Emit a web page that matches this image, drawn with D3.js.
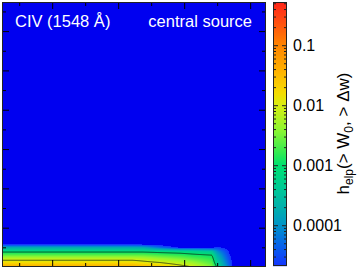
<!DOCTYPE html>
<html>
<head>
<meta charset="utf-8">
<script src="https://cdn.jsdelivr.net/npm/d3@7"></script>
<style>
  body { margin: 0; background: #fff; }
  svg { display: block; font-family: "Liberation Sans", Arial, sans-serif; }
</style>
</head>
<body>
<svg id="chart" width="360" height="268"></svg>
<script>
// grid of the map: W0 columns, dw rows, values are log10(h)
const w0Cols = [0.24, 2.22, 2.38, 2.63, 2.94, 3.13, 3.42, 3.5, 3.7, 3.8, 4.24];
const dwRows = [0, 10, 20, 30, 40, 50, 60, 70, 674];
// one array per column, rows from dw=0 upward
const logH = [
  [-1.35, -1.75, -2.1, -2.6, -3.1, -3.8, -5.0, -5.2, -5.2],
  [-1.35, -1.75, -2.1, -2.6, -3.1, -3.8, -5.0, -5.2, -5.2],
  [-1.45, -1.85, -2.15, -2.6, -3.1, -3.85, -5.0, -5.2, -5.2],
  [-1.6, -1.95, -2.3, -2.7, -3.15, -4.3, -5.0, -5.2, -5.2],
  [-1.85, -2.15, -2.45, -2.8, -3.2, -4.8, -5.1, -5.2, -5.2],
  [-2.0, -2.3, -2.6, -2.9, -3.25, -4.8, -5.1, -5.2, -5.2],
  [-2.45, -2.65, -2.8, -2.98, -3.45, -4.8, -5.1, -5.2, -5.2],
  [-3.05, -3.3, -3.5, -3.7, -4.0, -4.6, -5.1, -5.2, -5.2],
  [-4.4, -4.5, -4.6, -4.7, -4.8, -4.9, -5.1, -5.2, -5.2],
  [-5.2, -5.2, -5.2, -5.2, -5.2, -5.2, -5.2, -5.2, -5.2],
  [-5.2, -5.2, -5.2, -5.2, -5.2, -5.2, -5.2, -5.2, -5.2]
];
const contourLevels = [-3, -2];

const xMajor = [1, 2, 3, 4];
const xMinor = [0.5, 1.5, 2.5, 3.5];
const yMajor = [100, 200, 300, 400, 500, 600];
const yMinor = [50, 150, 250, 350, 450, 550, 650];

const cbTicks = [0.1, 0.01, 0.001, 0.0001];
const cbLabels = ["0.1", "0.01", "0.001", "0.0001"];

// colour map (log10 value -> colour)
const cmapLog = [-4.68, -4.3, -4.0, -3.8, -3.4, -3.0, -2.8, -2.4, -2.0, -1.8, -1.4, -1.0, -0.6, -0.28];
const cmapColors = ["#1434ff", "#0668e8", "#0094c8", "#00a8b4", "#00c896", "#00e070", "#30ea52",
                    "#90f630", "#d8ee10", "#f5dc00", "#ffae00", "#ff8400", "#ff4c10", "#ff2418"];
const underColor = "#0000f0";

const x0 = 2, x1 = 266, y0 = 2, y1 = 267;
const W = x1 - x0, H = y1 - y0;

const svg = d3.select("#chart");

const x = d3.scaleLinear().domain([0.24, 4.24]).range([x0, x1]);
const y = d3.scaleLinear().domain([0, 674]).range([y1, y0]);
const cmap = d3.scaleLinear().domain(cmapLog).range(cmapColors).clamp(true);

// bilinear lookup in the grid
let lookup = (v, dw) => {
  let i = Math.max(0, Math.min(w0Cols.length - 2, d3.bisectRight(w0Cols, v) - 1));
  let j = Math.max(0, Math.min(dwRows.length - 2, d3.bisectRight(dwRows, dw) - 1));
  let tx = Math.max(0, Math.min(1, (v - w0Cols[i]) / (w0Cols[i + 1] - w0Cols[i])));
  let ty = Math.max(0, Math.min(1, (dw - dwRows[j]) / (dwRows[j + 1] - dwRows[j])));
  let a = logH[i][j], b = logH[i + 1][j], c = logH[i][j + 1], d = logH[i + 1][j + 1];
  return (a * (1 - tx) + b * tx) * (1 - ty) + (c * (1 - tx) + d * tx) * ty;
};

// values below the colour range show the plain background
svg.append("rect")
  .attr("x", x0).attr("y", y0).attr("width", W).attr("height", H)
  .attr("fill", underColor);

// fill a canvas with the map
const canvas = document.createElement("canvas");
canvas.width = W; canvas.height = H;
const ctx = canvas.getContext("2d");
const img = ctx.createImageData(W, H);
const values = new Float64Array(W * H);
for (let j = 0; j < H; j++) {
  for (let i = 0; i < W; i++) {
    let L = lookup(x.invert(x0 + i + 0.5), y.invert(y0 + j + 0.5));
    values[i + j * W] = L;
    if (L < cmapLog[0]) continue;
    let c = d3.rgb(cmap(L));
    let k = 4 * (i + j * W);
    img.data[k] = c.r; img.data[k + 1] = c.g; img.data[k + 2] = c.b; img.data[k + 3] = 255;
  }
}
ctx.putImageData(img, 0, 0);

svg.append("clipPath").attr("id", "plotclip")
  .append("rect").attr("x", x0).attr("y", y0).attr("width", W).attr("height", H);

svg.append("image")
  .attr("x", x0).attr("y", y0).attr("width", W).attr("height", H)
  .attr("preserveAspectRatio", "none")
  .attr("href", canvas.toDataURL());

// contour lines
const contours = d3.contours().size([W, H]).thresholds(contourLevels)(values);
svg.append("g").attr("clip-path", "url(#plotclip)")
  .selectAll("path")
  .data(contours)
  .enter()
  .append("path")
  .attr("d", d3.geoPath(d3.geoIdentity().translate([x0, y0])))
  .attr("fill", "none")
  .attr("stroke", "#102010")
  .attr("stroke-opacity", 0.75)
  .attr("stroke-width", 1);

// ticks on all four sides
let addAxis = (axis, tr) => {
  let g = svg.append("g").attr("transform", tr).call(axis);
  g.select(".domain").remove();
  g.selectAll("line").attr("stroke", "#000");
};
[[xMajor, 7], [xMinor, 4]].forEach(([vals, len]) => {
  addAxis(d3.axisBottom(x).tickValues(vals).tickSizeInner(-len).tickSizeOuter(0).tickFormat(""), `translate(0,${y1})`);
  addAxis(d3.axisTop(x).tickValues(vals).tickSizeInner(-len).tickSizeOuter(0).tickFormat(""), `translate(0,${y0})`);
});
[[yMajor, 7], [yMinor, 4]].forEach(([vals, len]) => {
  addAxis(d3.axisLeft(y).tickValues(vals).tickSizeInner(-len).tickSizeOuter(0).tickFormat(""), `translate(${x0},0)`);
  addAxis(d3.axisRight(y).tickValues(vals).tickSizeInner(-len).tickSizeOuter(0).tickFormat(""), `translate(${x1},0)`);
});

svg.append("rect")
  .attr("x", x0 + 0.5).attr("y", y0 + 0.5).attr("width", W - 1).attr("height", H - 1)
  .attr("fill", "none").attr("stroke", "#222").attr("stroke-width", 1);

// labels inside the panel
svg.append("text").attr("x", 15).attr("y", 27)
  .attr("fill", "#fff").attr("font-size", "16.5px").text("CIV (1548 Å)");
svg.append("text").attr("x", 252).attr("y", 27).attr("text-anchor", "end")
  .attr("fill", "#fff").attr("font-size", "16.5px").text("central source");

// colour bar
const cbX0 = 273, cbX1 = 287, cbY0 = 2, cbY1 = 266;
const cb = d3.scaleLog().domain([Math.pow(10, -4.68), Math.pow(10, -0.28)]).range([cbY1, cbY0]);
const cbRows = d3.range(cbY0, cbY1);
svg.append("g").selectAll("rect")
  .data(cbRows)
  .enter()
  .append("rect")
  .attr("x", cbX0).attr("y", d => d).attr("width", cbX1 - cbX0).attr("height", 1.2)
  .attr("fill", d => cmap(Math.log10(cb.invert(d + 0.5))));

let cbAxis = (len, vals, side) => {
  let ax = side === "l" ? d3.axisRight(cb) : d3.axisLeft(cb);
  let g = svg.append("g")
    .attr("transform", `translate(${side === "l" ? cbX0 : cbX1},0)`)
    .call(ax.tickValues(vals).tickSizeInner(len).tickSizeOuter(0).tickFormat(""));
  g.select(".domain").remove();
  g.selectAll("line").attr("stroke", "#222");
};
const cbMinor = cb.ticks().filter(t => !cbTicks.some(m => Math.abs(m - t) / m < 1e-6));
cbAxis(3, cbMinor, "l");
cbAxis(3, cbMinor, "r");
cbAxis(5, cbTicks, "l");
cbAxis(5, cbTicks, "r");

svg.append("rect")
  .attr("x", cbX0 + 0.5).attr("y", cbY0 + 0.5).attr("width", cbX1 - cbX0 - 1).attr("height", cbY1 - cbY0 - 1)
  .attr("fill", "none").attr("stroke", "#222").attr("stroke-width", 1);

svg.append("g").selectAll("text")
  .data(cbTicks)
  .enter()
  .append("text")
  .attr("x", 293).attr("y", d => cb(d)).attr("dy", "0.36em")
  .attr("font-size", "16px").attr("fill", "#000")
  .text((d, i) => cbLabels[i]);

// colour bar title, rotated
const cbTitle = svg.append("text")
  .attr("transform", "translate(349,133.5) rotate(-90)")
  .attr("text-anchor", "middle").attr("font-size", "17px").attr("fill", "#000");
cbTitle.append("tspan").text("h");
cbTitle.append("tspan").attr("font-size", "12px").attr("dy", 4).text("elp");
cbTitle.append("tspan").attr("dy", -4).text("(> W");
cbTitle.append("tspan").attr("font-size", "12px").attr("dy", 4).text("0");
cbTitle.append("tspan").attr("dy", -4).text(", > Δw)");
</script>
</body>
</html>
